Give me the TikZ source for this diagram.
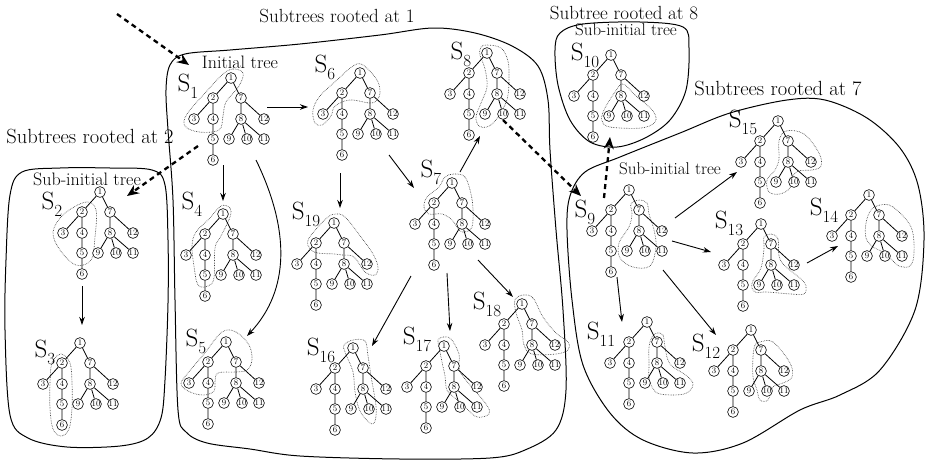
\documentclass[tikz,border=0pt]{standalone}
\usetikzlibrary{arrows.meta}
\newcommand{\slab}[1]{S\raisebox{-0.28em}{\fontsize{17}{17}\selectfont #1}}
\newcommand{\mytree}[4]{%
\begin{scope}[shift={(#2,#3)}]
\draw[hl] plot[smooth cycle,tension=0.6] coordinates {#4};
\node[tn] (#1-1) at (0,0) {1};
\node[tn] (#1-2) at (-18,20) {2};
\node[tn] (#1-7) at (10,20) {7};
\node[tn] (#1-3) at (-37,41) {3};
\node[tn] (#1-4) at (-18,41) {4};
\node[tn] (#1-8) at (10,41) {8};
\node[tn] (#1-12) at (33,41) {12};
\node[tn] (#1-5) at (-18,61) {5};
\node[tn] (#1-9) at (-2,61) {9};
\node[tn] (#1-10) at (16,61) {10};
\node[tn] (#1-11) at (33,61) {11};
\node[tn] (#1-6) at (-18,82) {6};
\draw[te] (#1-1)--(#1-2) (#1-1)--(#1-7) (#1-2)--(#1-3) (#1-2)--(#1-4)
 (#1-4)--(#1-5) (#1-5)--(#1-6) (#1-7)--(#1-8) (#1-7)--(#1-12)
 (#1-8)--(#1-9) (#1-8)--(#1-10) (#1-8)--(#1-11);
\end{scope}}
\begin{document}
\begin{tikzpicture}[x=1pt,y=-1pt,
 tn/.style={circle,draw,line width=0.6pt,inner sep=0pt,minimum size=10.8pt,fill=white,font=\fontsize{8.5}{8.5}\selectfont},
 te/.style={line width=0.8pt},
 hl/.style={densely dotted,line width=0.65pt,black!75},
 rgn/.style={line width=1pt},
 arr/.style={line width=0.9pt,-{Stealth[length=8pt,width=5.5pt]}},
 darr/.style={line width=2.3pt,dash pattern=on 5pt off 4pt,-{Stealth[length=12pt,width=10pt]}},
 lab/.style={inner sep=0pt,font=\fontsize{25}{27}\selectfont},
 ttl/.style={inner sep=0pt,font=\fontsize{19}{22}\selectfont},
 ttlb/.style={inner sep=0pt,font=\fontsize{20.5}{23}\selectfont},
 subt/.style={inner sep=0pt,font=\fontsize{18}{21}\selectfont},
 subtb/.style={inner sep=0pt,font=\fontsize{17}{20}\selectfont}]
\useasboundingbox (0,0) rectangle (927,469);

% regions
\draw[rgn] plot[smooth cycle,tension=0.55] coordinates {(166,90) (170,65) (185,54) (230,50) (300,44) (380,35) (433,28) (475,33) (512,46) (538,66) (548,100) (550,150) (556,230) (563,310) (566,390) (556,430) (525,450) (490,458) (400,459) (300,456) (250,449) (207,443) (186,432) (178,410) (175,300) (173,200) (168,130)};
\draw[rgn] plot[smooth cycle,tension=0.55] coordinates {(22,172) (60,168) (110,168) (152,170) (165,185) (168,240) (168,303) (165,380) (161,418) (148,438) (120,446) (67,447) (28,438) (10,415) (5,330) (6,260) (10,195)};
\draw[rgn] plot[smooth cycle,tension=0.55] coordinates {(560,33) (583,24) (640,22) (683,27) (689,48) (686,90) (670,120) (645,138) (617,147) (590,142) (570,120) (558,85) (555,50)};
\draw[rgn] plot[smooth cycle,tension=0.55] coordinates {(567,230) (570,196) (585,172) (620,157) (680,133) (730,113) (787,100) (825,100) (867,118) (900,148) (918,185) (924,240) (915,310) (880,370) (840,395) (800,410) (743,443) (693,453) (643,440) (610,413) (583,365) (572,300)};

% titles and texts
\node[ttl] (t1) at (337,16) {Subtrees rooted at 1};
\node[ttlb] (t2) at (90,136) {Subtrees rooted at 2};
\node[ttl] (t8) at (624,13) {Subtree rooted at 8};
\node[ttlb] (t7) at (778,88) {Subtrees rooted at 7};
\node[subt] (i1) at (240,62) {Initial tree};
\node[subt] (i2) at (87,179) {Sub-initial tree};
\node[subtb] (i3) at (626,30) {Sub-initial tree};
\node[subtb] (i4) at (670,169) {Sub-initial tree};

% trees
\mytree{s1}{231}{78}{(12,-5) (2,-9) (-8,-4) (-25,14) (-44,36) (-46,48) (-32,54) (-12,52) (-8,38) (-5,24) (8,8)}
\mytree{s2}{100}{192}{(-14,10) (-4,18) (-5,45) (-9,68) (-24,73) (-40,58) (-47,40) (-36,22)}
\mytree{s3}{80}{343}{(-19,11) (-10,20) (-8,40) (-8,65) (-11,86) (-19,93) (-27,86) (-30,65) (-30,40) (-28,20)}
\mytree{s4}{223}{214}{(-2,-8) (7,-6) (7,3) (-2,22) (-8,34) (-9,64) (-15,72) (-25,71) (-29,52) (-31,32) (-27,18) (-14,5)}
\mytree{s5}{226}{342}{(-4,-10) (10,-10) (23,3) (26,18) (21,28) (10,30) (-8,31) (-11,40) (-12,49) (-22,53) (-36,50) (-45,42) (-38,31) (-22,12)}
\mytree{s6}{360}{73}{(3,-8) (17,7) (20,20) (17,27) (10,30) (-10,27) (-25,33) (-29,43) (-38,52) (-45,50) (-47,37) (-40,23) (-23,7) (-7,-7)}
\mytree{s7}{452}{183}{(2,-9) (13,-6) (19,11) (21,27) (20,44) (13,49) (7,47) (0,37) (-10,31) (-23,31) (-28,24) (-25,14) (-13,4) (-7,-6)}
\mytree{s8}{487}{53}{(0,-8) (14,-5) (21,8) (22,25) (21,42) (17,54) (8,68) (0,74) (-8,73) (-11,64) (-6,50) (0,34) (-2,16) (-7,2) (-6,-6)}
\mytree{s9}{629}{190}{(10,10) (18,13) (20,24) (25,40) (27,57) (21,76) (4,77) (-9,68) (-10,53) (0,37) (3,24) (2,14)}
\mytree{s10}{611}{55}{(12,29) (24,40) (42,56) (44,67) (30,73) (-1,72) (-9,66) (-7,55) (4,37)}
\mytree{s11}{647}{322}{(10,11) (16,13) (18,25) (23,42) (40,54) (46,63) (37,72) (13,72) (5,65) (2,55) (2,42) (2,25) (5,15)}
\mytree{s12}{751}{330}{(9,12) (22,12) (39,33) (41,47) (32,53) (22,57) (17,70) (9,70) (6,60) (2,47) (2,27) (4,15)}
\mytree{s13}{761}{224}{(10,10) (17,15) (18,32) (24,42) (40,55) (45,62) (43,70) (30,70) (6,68) (-6,68) (-9,59) (0,44) (3,24) (3,13)}
\mytree{s14}{869}{195}{(11,10) (24,12) (42,32) (45,58) (41,71) (30,71) (22,64) (12,56) (4,52) (-3,43) (-3,28) (2,15)}
\mytree{s15}{778}{121}{(8,10) (26,13) (41,32) (43,45) (34,49) (20,50) (14,57) (12,67) (2,73) (-9,71) (-11,59) (-3,49) (1,38) (1,20)}
\mytree{s16}{353}{348}{(0,-8) (12,-7) (15,8) (18,28) (23,58) (22,73) (17,75) (7,63) (2,44) (0,24) (-8,4) (-9,-3)}
\mytree{s17}{444}{346}{(-1,-9) (7,-7) (15,8) (15,22) (21,33) (42,58) (45,68) (33,71) (22,62) (12,53) (3,44) (1,30) (-2,16) (-5,1) (-6,-6)}
\mytree{s18}{522}{304}{(1,-9) (11,-6) (21,13) (34,29) (46,38) (46,46) (34,50) (10,50) (2,41) (0,26) (-6,9) (-7,-4)}
\mytree{s19}{334}{223}{(1,-9) (11,-6) (27,14) (39,31) (44,44) (41,52) (31,49) (20,34) (8,32) (1,31) (-16,30) (-24,26) (-26,17) (-16,4) (-6,-6)}

% labels
\node[lab] (L1) at (188,86) {\slab{1}};
\node[lab] (L2) at (52,204) {\slab{2}};
\node[lab] (L3) at (45,352) {\slab{3}};
\node[lab] (L4) at (192,204) {\slab{4}};
\node[lab] (L5) at (196,341) {\slab{5}};
\node[lab] (L6) at (325,67) {\slab{6}};
\node[lab] (L7) at (431,172) {\slab{7}};
\node[lab] (L8) at (461,54) {\slab{8}};
\node[lab] (L9) at (585,212) {\slab{9}};
\node[lab] (L10) at (585,55) {\slab{10}};
\node[lab] (L11) at (601,334) {\slab{11}};
\node[lab] (L12) at (706,346) {\slab{12}};
\node[lab] (L13) at (729,223) {\slab{13}};
\node[lab] (L14) at (824,210) {\slab{14}};
\node[lab] (L15) at (743,122) {\slab{15}};
\node[lab] (L16) at (321,350) {\slab{16}};
\node[lab] (L17) at (417,339) {\slab{17}};
\node[lab] (L18) at (487,304) {\slab{18}};
\node[lab] (L19) at (306,214) {\slab{19}};

% arrow end points
\coordinate (d1a) at (117,14);  \coordinate (d1b) at (189,65);
\coordinate (d2a) at (198,146); \coordinate (d2b) at (127,196);
\coordinate (d3a) at (503,120); \coordinate (d3b) at (581,196);
\coordinate (d4a) at (604,198); \coordinate (d4b) at (610,137);
\coordinate (a16a) at (267,107); \coordinate (a16b) at (308,107);
\coordinate (a14a) at (223,165); \coordinate (a14b) at (223,201);
\coordinate (a15a) at (256,160); \coordinate (a15b) at (247,336);
\coordinate (a619a) at (340,173); \coordinate (a619b) at (340,208);
\coordinate (a67a) at (389,155); \coordinate (a67b) at (414,188);
\coordinate (a78a) at (460,172); \coordinate (a78b) at (480,136);
\coordinate (a716a) at (411,276); \coordinate (a716b) at (372,346);
\coordinate (a717a) at (447,273); \coordinate (a717b) at (450,331);
\coordinate (a718a) at (478,260); \coordinate (a718b) at (513,297);
\coordinate (a23a) at (82,286); \coordinate (a23b) at (82,325);
\coordinate (a915a) at (675,218); \coordinate (a915b) at (737,172);
\coordinate (a913a) at (672,241); \coordinate (a913b) at (711,252);
\coordinate (a1314a) at (807,263); \coordinate (a1314b) at (838,246);
\coordinate (a911a) at (617,277); \coordinate (a911b) at (622,322);
\coordinate (a912a) at (663,270); \coordinate (a912b) at (716,335);

% dashed arrows
\draw[darr] (d1a) -- (d1b);
\draw[darr] (d2a) -- (d2b);
\draw[darr] (d3a) -- (d3b);
\draw[darr] (d4a) -- (d4b);

% solid arrows
\draw[arr] (a16a) -- (a16b);
\draw[arr] (a14a) -- (a14b);
\draw[arr] (a15a) .. controls (290,230) and (290,290) .. (a15b);
\draw[arr] (a619a) -- (a619b);
\draw[arr] (a67a) -- (a67b);
\draw[arr] (a78a) -- (a78b);
\draw[arr] (a716a) -- (a716b);
\draw[arr] (a717a) -- (a717b);
\draw[arr] (a718a) -- (a718b);
\draw[arr] (a23a) -- (a23b);
\draw[arr] (a915a) -- (a915b);
\draw[arr] (a913a) -- (a913b);
\draw[arr] (a1314a) -- (a1314b);
\draw[arr] (a911a) -- (a911b);
\draw[arr] (a912a) -- (a912b);
\end{tikzpicture}
\end{document}
